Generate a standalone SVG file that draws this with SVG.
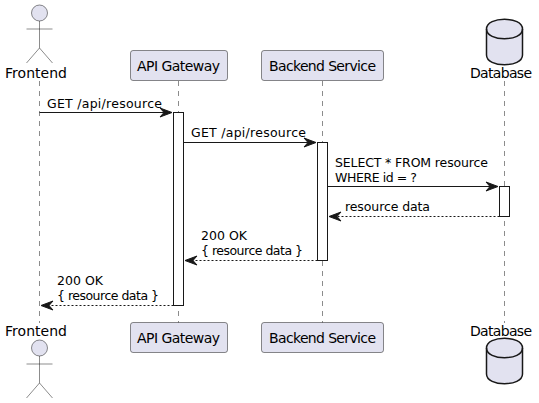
<svg xmlns="http://www.w3.org/2000/svg" width="539" height="403" viewBox="0 0 539 403">
<style>
text{font-family:"DejaVu Sans","Liberation Sans",sans-serif;fill:#000}
.t{font-size:12.500px}
.h{font-size:14px}
.p{fill:#E2E2F0;stroke:#181818;stroke-width:.5}
.a{fill:#E2E2F0;stroke:#181818;stroke-width:.5}
.life{stroke:#181818;stroke-width:.5;stroke-dasharray:5 5;fill:none}
.act{fill:#fff;stroke:#181818;stroke-width:1}
.m{stroke:#181818;stroke-width:1;fill:none}
.d{stroke-dasharray:2 2}
.ah{fill:#181818;stroke:#181818;stroke-width:1;stroke-linejoin:miter}
.o{fill:none;stroke:#181818;stroke-width:.5}
.db{fill:#E2E2F0;stroke:#181818;stroke-width:1.500}
.dbl{fill:none;stroke:#181818;stroke-width:1.500}
</style>
<rect width="539" height="403" fill="#fff"/>
<g id="lifelines">
<line class="life" x1="39.500" y1="81" x2="39.500" y2="323"/>
<line class="life" x1="178.500" y1="81" x2="178.500" y2="323"/>
<line class="life" x1="322.500" y1="81" x2="322.500" y2="323"/>
<line class="life" x1="504.500" y1="81" x2="504.500" y2="323"/>
</g>
<g id="activations">
<rect class="act" x="173.500" y="112.500" width="10" height="193"/>
<rect class="act" x="317.500" y="142.500" width="10" height="118"/>
<rect class="act" x="499.500" y="186.500" width="10" height="30"/>
</g>
<g id="connectors">
<g id="msg1"><line class="m" x1="39.500" y1="112.500" x2="168" y2="112.500"/><path class="ah" d="M172,112.500 L160,108 L164,112.500 L160,117 Z"/><text class="t" x="47" y="108" textLength="115">GET /api/resource</text></g>
<g id="msg2"><line class="m" x1="183.500" y1="142.500" x2="312" y2="142.500"/><path class="ah" d="M316,142.500 L304,138 L308,142.500 L304,147 Z"/><text class="t" x="191" y="137" textLength="115">GET /api/resource</text></g>
<g id="msg3"><line class="m" x1="327.500" y1="186.500" x2="494" y2="186.500"/><path class="ah" d="M498,186.500 L486,182 L490,186.500 L486,191 Z"/><text class="t" x="335" y="167" textLength="153">SELECT * FROM resource</text><text class="t" x="335" y="182" textLength="82">WHERE id = ?</text></g>
<g id="msg4"><line class="m d" x1="499.500" y1="216.500" x2="333" y2="216.500"/><path class="ah" d="M329,216.500 L341,212 L337,216.500 L341,221 Z"/><text class="t" x="345" y="211" textLength="85">resource data</text></g>
<g id="msg5"><line class="m d" x1="317.500" y1="260.500" x2="189" y2="260.500"/><path class="ah" d="M185,260.500 L197,256 L193,260.500 L197,265 Z"/><text class="t" x="201" y="240" textLength="46">200 OK</text><text class="t" x="201" y="255" textLength="102">{ resource data }</text></g>
<g id="msg6"><line class="m d" x1="173.500" y1="305.500" x2="45" y2="305.500"/><path class="ah" d="M41,305.500 L53,301 L49,305.500 L53,310 Z"/><text class="t" x="57" y="285" textLength="46">200 OK</text><text class="t" x="57" y="300" textLength="102">{ resource data }</text></g>
</g>
<g id="frontend-top">
<circle class="a" cx="39.500" cy="13" r="8"/>
<path class="o" d="M39.500 21V48M26.500 29H52.500M39.500 48L26.500 63M39.500 48L52.500 63"/>
<text class="h" x="5" y="78" textLength="62">Frontend</text>
</g>
<g id="gateway-top">
<rect class="p" x="130.500" y="50.500" width="97" height="30" rx="2.500"/>
<text class="h" x="137" y="71" textLength="83">API Gateway</text>
</g>
<g id="backend-top">
<rect class="p" x="261.500" y="50.500" width="122" height="30" rx="2.500"/>
<text class="h" x="269" y="71" textLength="107">Backend Service</text>
</g>
<g id="database-top">
<path class="db" d="M486.500 29C486.500 16 522.500 16 522.500 29V55C522.500 68 486.500 68 486.500 55Z"/>
<path class="dbl" d="M486.500 29C486.500 42 522.500 42 522.500 29"/>
<text class="h" x="470" y="78" textLength="62">Database</text>
</g>
<g id="frontend-bottom">
<text class="h" x="5" y="336" textLength="62">Frontend</text>
<circle class="a" cx="39.500" cy="348" r="8"/>
<path class="o" d="M39.500 356V383M26.500 364H52.500M39.500 383L26.500 398M39.500 383L52.500 398"/>
</g>
<g id="gateway-bottom">
<rect class="p" x="130.500" y="322.500" width="97" height="30" rx="2.500"/>
<text class="h" x="137" y="343" textLength="83">API Gateway</text>
</g>
<g id="backend-bottom">
<rect class="p" x="261.500" y="322.500" width="122" height="30" rx="2.500"/>
<text class="h" x="269" y="343" textLength="107">Backend Service</text>
</g>
<g id="database-bottom">
<text class="h" x="470" y="336" textLength="62">Database</text>
<path class="db" d="M486.500 348C486.500 335 522.500 335 522.500 348V374C522.500 387 486.500 387 486.500 374Z"/>
<path class="dbl" d="M486.500 348C486.500 361 522.500 361 522.500 348"/>
</g>
</svg>
